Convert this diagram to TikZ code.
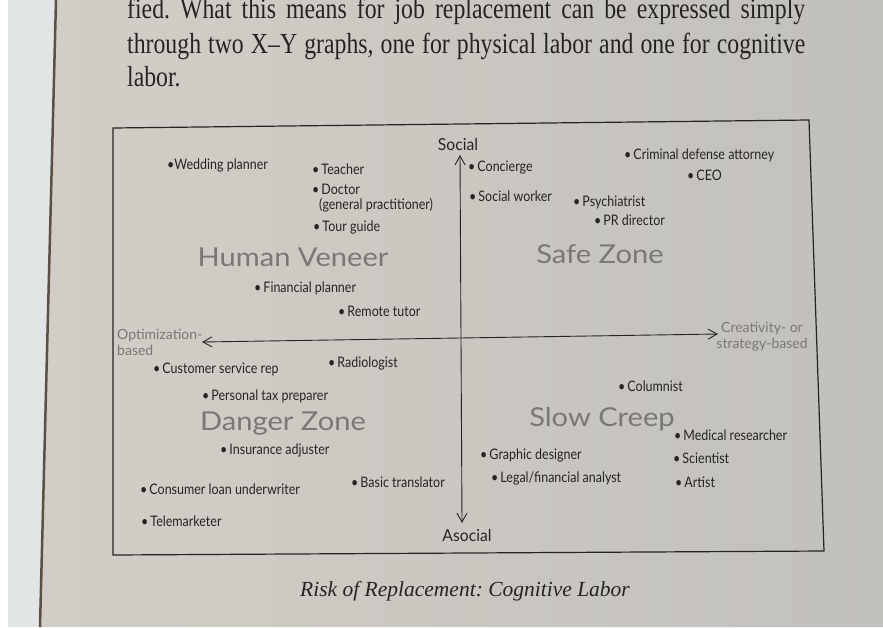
\documentclass[tikz,border=0pt]{standalone}
\usepackage{fontspec}
\setmainfont{Liberation Serif}
\newfontfamily\labelfont{Lato}
\usetikzlibrary{positioning,arrows.meta}
\frenchspacing

\definecolor{ink}{RGB}{38,36,34}
\definecolor{zonegray}{RGB}{122,120,116}
\definecolor{paperL}{RGB}{210,206,199}
\definecolor{paperR}{RGB}{194,192,188}
\definecolor{paperedge}{RGB}{226,229,229}
\definecolor{spine}{RGB}{92,80,68}

\begin{document}
\begin{tikzpicture}[
    x=1pt, y=-1pt,
    job/.style={anchor=base west, inner sep=0pt, text=ink, xscale=0.86,
        font=\labelfont\fontsize{14.5}{16}\selectfont},
    zone/.style={anchor=base, inner sep=0pt, text=zonegray, xscale=1.12,
        font=\labelfont\fontsize{26}{30}\selectfont},
    axislabel/.style={anchor=base, inner sep=0pt, text=ink, xscale=0.95,
        font=\labelfont\fontsize{16.5}{18}\selectfont},
    endlabel/.style={inner sep=0pt, text=zonegray, xscale=1.0,
        font=\labelfont\fontsize{14}{16}\selectfont},
    bodytext/.style={anchor=base west, inner sep=0pt, text=ink, xscale=0.82,
        font=\fontsize{29}{33}\selectfont},
    axis/.style={draw=ink, line width=0.9pt,
        {Straight Barb[length=9pt,width=10pt]}-{Straight Barb[length=9pt,width=10pt]}}
]
\useasboundingbox (0,0) rectangle (883,627);
\clip (0,0) rectangle (883,627);

% page
\fill[white] (0,0) rectangle (883,627);
\fill[paperedge] (8,0) -- (56,0) -- (40,627) -- (8,627) -- cycle;
\shade[left color=paperL, right color=paperR] (56,0) -- (883,0) -- (883,627) -- (40,627) -- cycle;
\draw[spine, line width=2.5pt] (56,0) -- (40,627);

% running text
\node[bodytext] (line1) at (127,18) {\makebox[827pt][s]{fied. What this means for job replacement can be expressed simply}};
\node[bodytext] (line2) at (127,53) {\makebox[827pt][s]{through two X--Y graphs, one for physical labor and one for cognitive}};
\node[bodytext] (line3) at (127,86) {labor.};

% frame
\coordinate (nw) at (113,128);
\coordinate (ne) at (809,120);
\coordinate (se) at (824,551);
\coordinate (sw) at (113,555);
\draw[ink, line width=1.2pt] (nw) -- (ne) -- (se) -- (sw) -- cycle;

% axes
\coordinate (ytop) at (460,155);
\coordinate (ybot) at (462,523);
\coordinate (xleft) at (202,342);
\coordinate (xright) at (718,334);
\draw[axis] (ybot) -- (ytop);
\draw[axis] (xleft) -- (xright);

\node[axislabel] (social) at (458,150) {Social};
\node[axislabel] (asocial) at (467,541) {Asocial};
\node[endlabel, anchor=north west, align=left] (optim) at (117,329) {Optimization-\\based};
\node[endlabel, anchor=north, align=center] (creat) at (762,322) {Creativity- or\\strategy-based};

% quadrant names
\node[zone] (veneer) at (293,266) {Human Veneer};
\node[zone] (safe) at (600,263) {Safe Zone};
\node[zone] (danger) at (283,430) {Danger Zone};
\node[zone] (creep) at (602,426) {Slow Creep};

% social, optimization-based
\node[job] (wedding) at (167,169) {\textbullet Wedding planner};
\node[job] (teacher) at (312,174) {\textbullet\,Teacher};
\node[job] (doctor) at (312,194) {\textbullet\,Doctor};
\node[job] (gp) at (319,209) {(general practitioner)};
\node[job] (tour) at (313,231) {\textbullet\,Tour guide};
\node[job] (finplan) at (254,292) {\textbullet\,Financial planner};
\node[job] (tutor) at (338,316) {\textbullet\,Remote tutor};

% social, creativity-based
\node[job] (concierge) at (468,171) {\textbullet\,Concierge};
\node[job] (attorney) at (624,159) {\textbullet\,Criminal defense attorney};
\node[job] (ceo) at (687,180) {\textbullet\,CEO};
\node[job] (socwork) at (469,201) {\textbullet\,Social worker};
\node[job] (psych) at (573,206) {\textbullet\,Psychiatrist};
\node[job] (pr) at (594,225) {\textbullet\,PR director};

% asocial, optimization-based
\node[job] (custserv) at (153,373) {\textbullet\,Customer service rep};
\node[job] (radio) at (328,367) {\textbullet\,Radiologist};
\node[job] (tax) at (202,400) {\textbullet\,Personal tax preparer};
\node[job] (insur) at (220,454) {\textbullet\,Insurance adjuster};
\node[job] (transl) at (351,487) {\textbullet\,Basic translator};
\node[job] (loan) at (140,494) {\textbullet\,Consumer loan underwriter};
\node[job] (tele) at (141,526) {\textbullet\,Telemarketer};

% asocial, creativity-based
\node[job] (column) at (618,391) {\textbullet\,Columnist};
\node[job] (medres) at (674,440) {\textbullet\,Medical researcher};
\node[job] (graphic) at (480,459) {\textbullet\,Graphic designer};
\node[job] (sci) at (673,463) {\textbullet\,Scientist};
\node[job] (legal) at (491,482) {\textbullet\,Legal/financial analyst};
\node[job] (artist) at (675,487) {\textbullet\,Artist};

% caption
\node[anchor=base, inner sep=0pt, text=ink, font=\itshape\fontsize{21.5}{24}\selectfont] (caption) at (465,596)
    {Risk of Replacement: Cognitive Labor};
\end{tikzpicture}
\end{document}
